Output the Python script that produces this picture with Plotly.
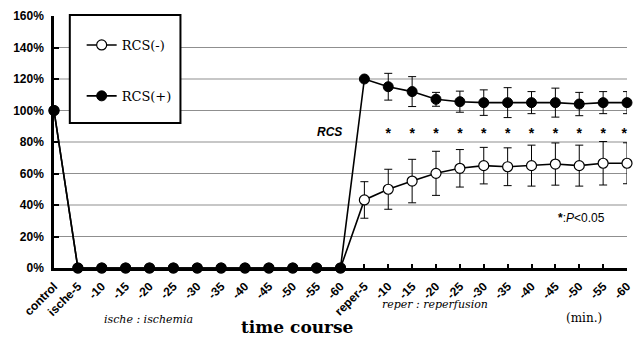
import plotly.graph_objects as go

# ---------------- data ----------------
X_LABELS = (["control", "ische-5"] + ["-%d" % m for m in range(10, 65, 5)]
            + ["reper-5"] + ["-%d" % m for m in range(10, 65, 5)])
X_POS = list(range(len(X_LABELS)))

RCS_MINUS = [100] + [0] * 12 + [43.2, 50.0, 55.2, 60.1, 63.3, 65.0, 64.3, 65.0, 66.0, 65.0, 66.5, 66.5]
RCS_MINUS_SD = [0] * 13 + [11.6, 12.7, 13.8, 14.0, 11.9, 11.6, 12.0, 13.0, 13.4, 13.0, 13.8, 13.0]
RCS_PLUS = [100] + [0] * 12 + [120.0, 115.1, 112.0, 107.1, 105.6, 105.0, 105.0, 105.0, 105.0, 104.1, 105.0, 105.0]
RCS_PLUS_SD = [0] * 13 + [0, 8.5, 9.5, 4.4, 6.7, 8.1, 9.5, 7.0, 9.2, 7.4, 7.0, 7.0]

SIG_X = list(range(14, 25))          # reper -10 ... -60
SIG_Y = [84.5] * len(SIG_X)

Y_TICKS = [0, 20, 40, 60, 80, 100, 120, 140, 160]
Y_TICK_TEXT = ["%d%%" % v for v in Y_TICKS]
GRID_LEVELS = [20, 40, 60, 80, 100, 120, 140]

SANS = "Liberation Sans, Arial, sans-serif"
SERIF = "DejaVu Serif, serif"

fig = go.Figure()

fig.add_trace(go.Scatter(
    x=X_POS, y=RCS_MINUS, name="RCS(-)", mode="lines+markers",
    line=dict(color="black", width=1.6),
    marker=dict(symbol="circle", size=10, color="white", line=dict(color="black", width=1.2)),
    error_y=dict(type="data", array=RCS_MINUS_SD, visible=True, color="black", thickness=1, width=4),
    cliponaxis=False, legendgroup="a",
))
fig.add_trace(go.Scatter(
    x=X_POS, y=RCS_PLUS, name="RCS(+)", mode="lines+markers",
    line=dict(color="black", width=1.6),
    marker=dict(symbol="circle", size=10, color="black", line=dict(color="black", width=1)),
    error_y=dict(type="data", array=RCS_PLUS_SD, visible=True, color="black", thickness=1, width=4),
    cliponaxis=False, legendgroup="b",
))
sig_pos = ["middle center"] * (len(SIG_X) - 1) + ["middle left"]
fig.add_trace(go.Scatter(
    x=SIG_X, y=SIG_Y, mode="text", text=["<b>*</b>"] * len(SIG_X),
    textposition=sig_pos,
    textfont=dict(family=SANS, size=14, color="black"),
    showlegend=False, cliponaxis=False, hoverinfo="skip",
))

shapes = []
for g in GRID_LEVELS:
    shapes.append(dict(type="line", xref="paper", yref="y", x0=0, x1=1, y0=g, y1=g,
                       line=dict(color="#8f8f8f", width=1), layer="below"))
# legend box
shapes.append(dict(type="rect", xref="paper", yref="paper",
                   x0=(70 - 54) / 580, x1=(182 - 54) / 580,
                   y0=(268 - 123) / 252, y1=(268 - 15) / 252,
                   fillcolor="white", line=dict(color="black", width=2), layer="below"))


def pann(px, py, text, font):
    return dict(x=(px - 54) / 580, y=(268 - py) / 252, xref="paper", yref="paper",
                xanchor="center", yanchor="middle", text=text, showarrow=False, font=font)


annotations = [
    dict(x=11.55, y=86.3, xref="x", yref="y", xanchor="center", yanchor="middle",
         text="<i><b>RCS</b></i>", showarrow=False,
         font=dict(family=SANS, size=12, color="black")),
    dict(x=22.1, y=31.7, xref="x", yref="y", xanchor="center", yanchor="middle",
         text="<b>*</b>:<i>P</i>&lt;0.05", showarrow=False,
         font=dict(family=SANS, size=12, color="black")),
    pann(150, 319, "<i>ische : ischemia</i>", dict(family=SERIF, size=11, color="black")),
    pann(440, 304, "<i>reper : reperfusion</i>", dict(family=SERIF, size=11, color="black")),
    pann(590, 318, "(min.)", dict(family=SERIF, size=12, color="black")),
    pann(300, 327, "<b>time course</b>", dict(family=SERIF, size=17, color="black")),
]

fig.update_layout(
    width=634, height=340,
    margin=dict(l=54, r=0, t=16, b=72),
    paper_bgcolor="white", plot_bgcolor="white",
    showlegend=True,
    legend=dict(x=(82 - 54) / 580, y=(268 - 30) / 252, xanchor="left", yanchor="top",
                bgcolor="rgba(0,0,0,0)", borderwidth=0, traceorder="grouped",
                tracegroupgap=31, itemwidth=30,
                font=dict(family=SERIF, size=13, color="black")),
    xaxis=dict(range=[0, 24], tickmode="array", tickvals=X_POS,
               ticktext=["<b>%s</b>" % t for t in X_LABELS],
               tickangle=-45, ticks="inside", ticklen=4, tickcolor="black", tickwidth=1.5,
               showline=True, linecolor="black", linewidth=2.5, showgrid=False, zeroline=False,
               tickfont=dict(family=SANS, size=12, color="black"), ticklabelstandoff=4,
               ticklabeloverflow="allow"),
    yaxis=dict(range=[0, 160], tickmode="array", tickvals=Y_TICKS,
               ticktext=["<b>%s</b>" % t for t in Y_TICK_TEXT],
               ticks="inside", ticklen=5, tickcolor="black", tickwidth=1.5,
               showline=True, linecolor="black", linewidth=2.5, showgrid=False, zeroline=False,
               tickfont=dict(family=SANS, size=12, color="black"), ticklabelstandoff=5),
    shapes=shapes, annotations=annotations,
)

fig.write_html("out.html")
